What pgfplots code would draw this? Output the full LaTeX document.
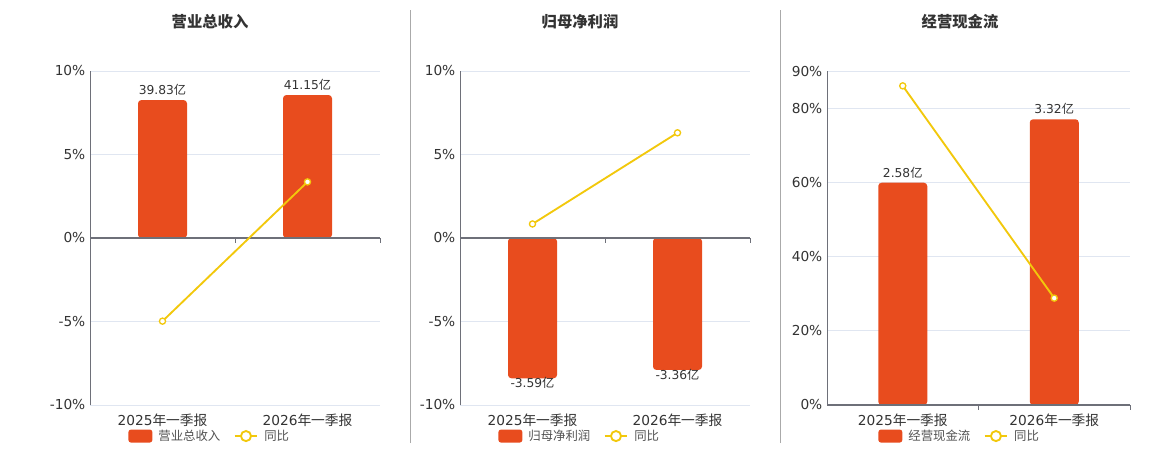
\documentclass[border=0pt]{standalone}
\usepackage{pgfplots}
\pgfplotsset{compat=1.18}
\usepackage{fontspec}
\setmainfont{DejaVu Sans}
\newfontfamily\cjk{Noto Sans CJK SC}
\definecolor{barc}{RGB}{232,76,30}
\definecolor{linec}{RGB}{242,200,12}
\definecolor{gridc}{RGB}{224,230,241}
\definecolor{axc}{RGB}{110,112,121}
\definecolor{txt}{RGB}{51,51,51}
\definecolor{divc}{RGB}{170,170,170}
\pgfplotsset{
 panel/.style={
  scale only axis, height=250.5pt, anchor=south west,
  xmin=-0.5, xmax=1.5, xtick={0,1},
  xticklabels={2025{\cjk 年一季报},2026{\cjk 年一季报}},
  axis line style={draw=none}, tick style={draw=none},
  ymajorgrids, grid style={gridc, line width=0.75pt},
  tick label style={font=\fontsize{10.3}{12}\selectfont, text=txt},
  xticklabel style={yshift=-3pt},
  clip=false,
  legend columns=2,
  legend style={draw=none, fill=none, font=\fontsize{9.3}{11}\selectfont\cjk, text=txt!85, anchor=center,
    /tikz/every odd column/.append style={column sep=2.5pt},
    /tikz/every even column/.append style={column sep=8pt}, inner sep=0pt},
  legend cell align=left,
 },
 barleg/.style={legend image code/.code={\fill[barc, rounded corners=2pt] (0pt,-4.9pt) rectangle (18pt,4.9pt);}},
 lineleg/.style={legend image code/.code={\draw[linec, line width=1.4pt] (0pt,0pt)--(17pt,0pt); \draw[linec, fill=white, line width=1.4pt] (8.5pt,0pt) circle (3.8pt);}},
 barplot/.style={ybar, bar width=36.75pt, fill=barc, draw=none, rounded corners=2.5pt, bar shift=0pt,
   nodes near coords={\pgfplotspointmeta{\cjk 亿}}, point meta=explicit symbolic,
   every node near coord/.append style={font=\fontsize{9.2}{11}\selectfont, text=txt}},
 lineplot/.style={linec, line width=1.4pt, mark=*, mark size=2.3pt, mark options={fill=white, draw=linec, line width=1pt, solid}},
}
\begin{document}
\begin{tikzpicture}
\path[use as bounding box] (0,0) rectangle (870pt,337.5pt);
% dividers
\draw[divc, line width=0.75pt] (307.9pt,5.25pt) -- (307.9pt,330pt);
\draw[divc, line width=0.75pt] (585.4pt,5.25pt) -- (585.4pt,330pt);
% titles
\node[font=\fontsize{11.5}{13}\selectfont\cjk\bfseries, text=txt] at (157.5pt,321pt) {营业总收入};
\node[font=\fontsize{11.5}{13}\selectfont\cjk\bfseries, text=txt] at (435pt,321pt) {归母净利润};
\node[font=\fontsize{11.5}{13}\selectfont\cjk\bfseries, text=txt] at (720pt,321pt) {经营现金流};

% Panel 1
\begin{axis}[panel, at={(67.5pt,33.75pt)}, width=217.5pt,
  ymin=-10, ymax=10, ytick={-10,-5,0,5,10}, yticklabels={-10\%,-5\%,0\%,5\%,10\%},
  legend style={at={(0.414,-0.093)}}]
\addplot[barplot, barleg] coordinates {(0,8.26) [39.83] (1,8.56) [41.15]};
\addlegendentry{营业总收入}
\draw[axc, line width=0.75pt] (rel axis cs:0,0) -- (rel axis cs:0,1);
\draw[axc, line width=1.3pt] (axis cs:-0.5,0) -- (axis cs:1.5,0);
\draw[axc, line width=0.75pt] (axis cs:0.5,0) -- ([yshift=-4pt]axis cs:0.5,0);
\draw[axc, line width=0.75pt] (axis cs:1.5,0) -- ([yshift=-4pt]axis cs:1.5,0);
\addplot[lineplot, lineleg] coordinates {(0,-4.98) (1,3.36)};
\addlegendentry{同比}
\end{axis}

% Panel 2
\begin{axis}[panel, at={(345pt,33.75pt)}, width=217.5pt,
  ymin=-10, ymax=10, ytick={-10,-5,0,5,10}, yticklabels={-10\%,-5\%,0\%,5\%,10\%},
  legend style={at={(0.414,-0.093)}}]
\addplot[barplot, barleg, every node near coord/.append style={anchor=north, yshift=4pt}] coordinates {(0,-8.4) [-3.59] (1,-7.9) [-3.36]};
\addlegendentry{归母净利润}
\draw[axc, line width=0.75pt] (rel axis cs:0,0) -- (rel axis cs:0,1);
\draw[axc, line width=1.3pt] (axis cs:-0.5,0) -- (axis cs:1.5,0);
\draw[axc, line width=0.75pt] (axis cs:0.5,0) -- ([yshift=-4pt]axis cs:0.5,0);
\draw[axc, line width=0.75pt] (axis cs:1.5,0) -- ([yshift=-4pt]axis cs:1.5,0);
\addplot[lineplot, lineleg] coordinates {(0,0.84) (1,6.3)};
\addlegendentry{同比}
\end{axis}

% Panel 3
\begin{axis}[panel, at={(620.25pt,33.75pt)}, width=227.25pt,
  ymin=0, ymax=90, ytick={0,20,40,60,80,90}, yticklabels={0\%,20\%,40\%,60\%,80\%,90\%},
  legend style={at={(0.439,-0.093)}}]
\addplot[barplot, barleg] coordinates {(0,59.9) [2.58] (1,77.0) [3.32]};
\addlegendentry{经营现金流}
\draw[axc, line width=0.75pt] (rel axis cs:0,0) -- (rel axis cs:0,1);
\draw[axc, line width=1.3pt] (axis cs:-0.5,0) -- (axis cs:1.5,0);
\draw[axc, line width=0.75pt] (axis cs:0.5,0) -- ([yshift=-4pt]axis cs:0.5,0);
\draw[axc, line width=0.75pt] (axis cs:1.5,0) -- ([yshift=-4pt]axis cs:1.5,0);
\addplot[lineplot, lineleg] coordinates {(0,86.0) (1,28.8)};
\addlegendentry{同比}
\end{axis}
\end{tikzpicture}
\end{document}
